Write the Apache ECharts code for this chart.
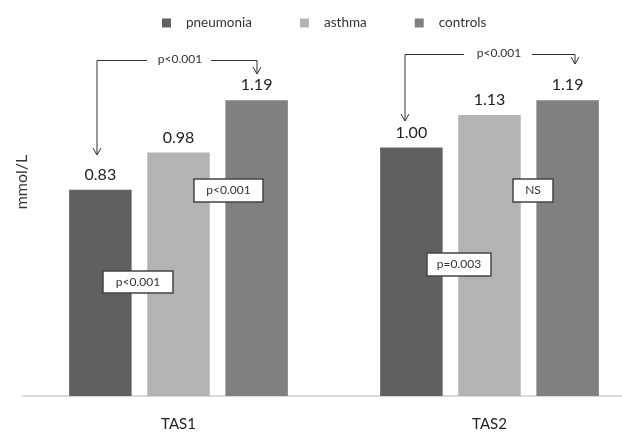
<!DOCTYPE html>
<html>
<head>
<meta charset="utf-8">
<script src="https://cdn.jsdelivr.net/npm/echarts@6/dist/echarts.min.js"></script>
<style>html,body{margin:0;padding:0;background:#fff}#c{width:622px;height:433px}</style>
</head>
<body>
<div id="c"></div>
<script>
const categories = ['TAS1', 'TAS2'];
const seriesNames = ['pneumonia', 'asthma', 'controls'];
const pneumonia = [0.83, 1.00];
const asthma = [0.98, 1.13];
const controls = [1.19, 1.19];
const yAxisTitle = 'mmol/L';
const pLabels = ['p<0.001', 'p<0.001', 'p=0.003', 'NS', 'p<0.001', 'p<0.001'];

const FONT = 'Lato';
const colors = ['#606060', '#b3b3b3', '#808080'];
const chart = echarts.init(document.getElementById('c'));

function mkSeries(name, data, color) {
  return {
    name: name, type: 'bar', data: data,
    barWidth: 62.5, barGap: '25%',
    itemStyle: { color: color },
    label: { show: true, position: 'top', distance: 7, color: '#222', fontFamily: FONT, fontSize: 16,
      formatter: p => p.value.toFixed(2) }
  };
}

function arrowDown(x, y) {
  return { type: 'polyline', shape: { points: [[x - 4, y - 7], [x, y], [x + 4, y - 7]] },
    style: { stroke: '#333', lineWidth: 1, fill: null }, z: 100 };
}
function line(points) {
  return { type: 'polyline', shape: { points: points }, style: { stroke: '#333', lineWidth: 1, fill: null }, z: 100 };
}
function box(x1, y1, x2, y2, txt) {
  return [
    { type: 'rect', shape: { x: x1, y: y1, width: x2 - x1, height: y2 - y1 },
      style: { fill: '#fff', stroke: '#444', lineWidth: 1.5 }, z: 100 },
    { type: 'text', x: (x1 + x2) / 2, y: (y1 + y2) / 2, z: 101,
      style: { text: txt, textAlign: 'center', textVerticalAlign: 'middle', fill: '#333', font: '12px ' + FONT } }
  ];
}
function ptext(x, y, txt) {
  return { type: 'text', x: x, y: y, z: 101,
    style: { text: txt, textAlign: 'center', textVerticalAlign: 'middle', fill: '#333', font: '12px ' + FONT } };
}

const graphics = [].concat(
  [{ type: 'text', x: 22, y: 182, rotation: Math.PI / 2,
     style: { text: yAxisTitle, textAlign: 'center', textVerticalAlign: 'middle', fill: '#333', font: '16px ' + FONT } }],
  // TAS1 bracket
  [line([[97, 155], [97, 60.5], [147, 60.5]]), arrowDown(97, 155), ptext(180, 59, pLabels[4]),
   line([[211, 60.5], [257, 60.5], [257, 74]]), arrowDown(257, 74)],
  // TAS2 bracket
  [line([[405, 121], [405, 54.5], [464, 54.5]]), arrowDown(405, 121), ptext(499, 53, pLabels[5]),
   line([[532, 54.5], [575, 54.5], [575, 64]]), arrowDown(575, 64)],
  box(103, 271, 173, 293, pLabels[0]),
  box(194, 179, 263, 202, pLabels[1]),
  box(427, 253, 491, 276, pLabels[2]),
  box(513, 179, 553, 202, pLabels[3])
);

chart.setOption({
  animation: false,
  textStyle: { fontFamily: FONT },
  color: colors,
  legend: {
    left: 162, top: 16, padding: 0, itemWidth: 9, itemHeight: 9, itemGap: 48, icon: 'rect',
    data: seriesNames,
    formatter: n => '{s|}' + n,
    textStyle: { fontFamily: FONT, fontSize: 13.5, color: '#333', rich: { s: { width: 10 } } }
  },
  grid: { left: 23, right: -23, top: 48, bottom: 37, outerBoundsMode: 'none', containLabel: false },
  xAxis: {
    type: 'category', data: categories,
    axisLine: { lineStyle: { color: '#d9d9d9', width: 2 } },
    axisTick: { show: false },
    axisLabel: { color: '#222', fontFamily: FONT, fontSize: 15, margin: 21 }
  },
  yAxis: { type: 'value', min: 0, max: 1.4, show: false, splitLine: { show: false } },
  series: [
    mkSeries(seriesNames[0], pneumonia, colors[0]),
    mkSeries(seriesNames[1], asthma, colors[1]),
    mkSeries(seriesNames[2], controls, colors[2])
  ],
  graphic: graphics
});
</script>
</body>
</html>
